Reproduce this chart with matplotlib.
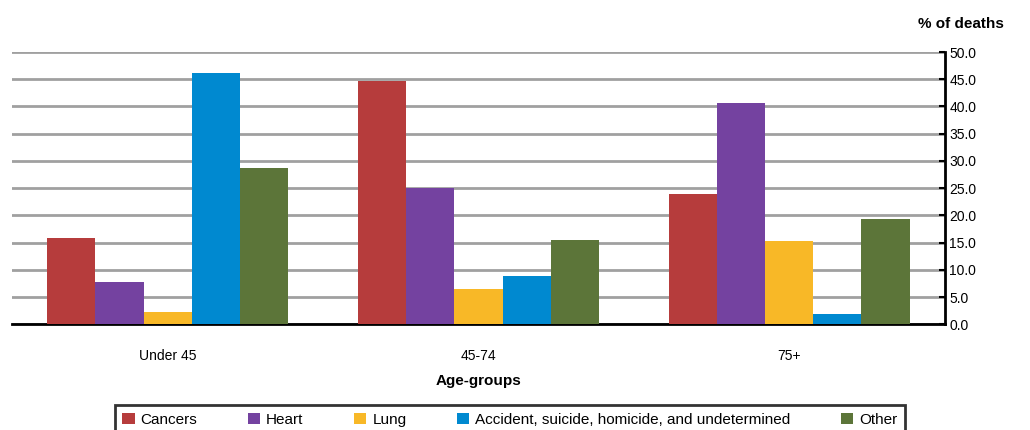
import matplotlib
matplotlib.rcParams['font.family'] = 'Liberation Sans'
import matplotlib.pyplot as plt
import numpy as np

groups = ['Under 45', '45-74', '75+']
causes = ['Cancers', 'Heart', 'Lung', 'Accident, suicide, homicide, and undetermined', 'Other']
colors = ['#b63c3c', '#7442a0', '#f8b827', '#0089d0', '#5c7539']
cancers = [15.8, 44.7, 23.9]
heart = [7.7, 25.0, 40.6]
lung = [2.2, 6.4, 15.3]
accident = [46.1, 8.8, 1.8]
other = [28.7, 15.4, 19.3]
series = [cancers, heart, lung, accident, other]

fig = plt.figure(figsize=(10.3, 4.3), dpi=100)
ax = fig.add_axes([0.012, 0.246, 0.905, 0.633])
width = 0.155
x = np.arange(len(groups))
for i, (vals, col, lab) in enumerate(zip(series, colors, causes)):
    ax.bar(x + (i - 2) * width, vals, width, color=col, label=lab, zorder=3)

ax.set_xlim(-0.5, 2.5)
ax.set_ylim(0, 50)
ax.set_yticks(np.arange(0, 50.1, 5))
ax.set_yticklabels([f'{v:.1f}' for v in np.arange(0, 50.1, 5)], fontsize=10)
ax.yaxis.tick_right()
ax.yaxis.grid(color='#a0a0a0', linewidth=2, zorder=0)
ax.set_xticks(x)
ax.set_xticklabels(groups, fontsize=10)
ax.tick_params(axis='x', length=0, pad=18)
ax.tick_params(axis='y', direction='in', length=4, width=1.5)
for s in ['top', 'left']:
    ax.spines[s].set_visible(False)
ax.spines['right'].set_linewidth(2)
ax.spines['bottom'].set_linewidth(2)
ax.set_xlabel('Age-groups', fontsize=11, fontweight='bold', labelpad=8)
fig.text(0.975, 0.935, '% of deaths', fontsize=11, fontweight='bold', ha='right')

leg = fig.legend(loc='lower center', bbox_to_anchor=(0.495, -0.01), ncol=5, fontsize=11,
                 frameon=True, fancybox=False, edgecolor='black', handlelength=0.8,
                 handleheight=0.8, columnspacing=3.3, handletextpad=0.4,
                 borderpad=0.5, borderaxespad=0)
leg.get_frame().set_linewidth(2)
fig.savefig('out.png', dpi=100)
